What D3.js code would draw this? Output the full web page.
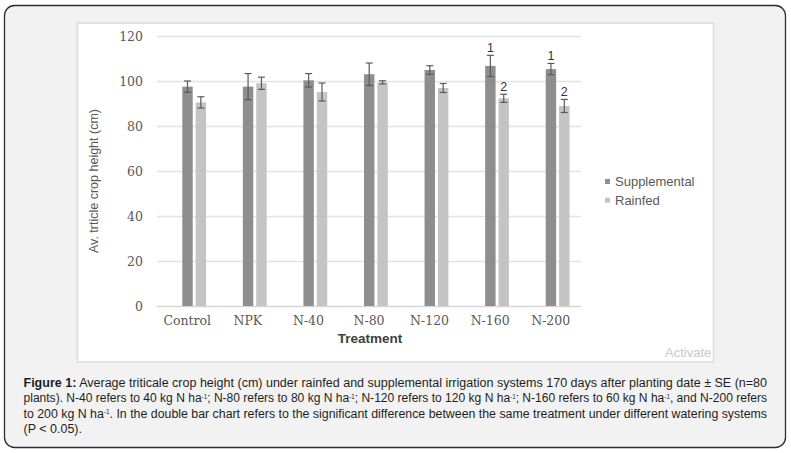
<!DOCTYPE html>
<html>
  <head>
    <title>Triticale crop height</title>
    <style>
      body { margin: 0; background: #ffffff; }
      .grid line { stroke: #e3e3e3; stroke-width: 1.5px; }
      .grid text, .xaxis text { font-family: "DejaVu Serif", serif; font-size: 12.5px; fill: #595959; }
      .cap { font-family: "Liberation Sans", Arial, sans-serif; font-size: 12.5px; fill: #1e1e1e; }
    </style>
    <script src="https://cdn.jsdelivr.net/npm/d3@7"></script>
  </head>

  <body>
    <div id="chart"></div>
    <script type="text/javascript">
      var categories    = ["Control", "NPK", "N-40", "N-80", "N-120", "N-160", "N-200"];
      var series        = ["Supplemental", "Rainfed"];
      var supplemental  = [97.5, 97.5, 100.3, 103.0, 104.9, 106.7, 105.3];
      var supplementalSE = [2.5, 5.8, 3.0, 5.0, 1.9, 4.7, 2.5];
      var rainfed       = [90.5, 99.0, 95.1, 99.4, 96.9, 92.3, 88.9];
      var rainfedSE     = [2.5, 2.7, 4.0, 0.7, 2.0, 1.8, 2.9];
      var supplementalSig = ["", "", "", "", "", "1", "1"];
      var rainfedSig      = ["", "", "", "", "", "2", "2"];
      var yTicks = [0, 20, 40, 60, 80, 100, 120];

      var caption = [
        "[Figure 1:] Average triticale crop height (cm) under rainfed and supplemental irrigation systems 170 days after planting date \u00b1 SE (n=80",
        "plants). N-40 refers to 40 kg N ha{-1}; N-80 refers to 80 kg N ha{-1}; N-120 refers to 120 kg N ha{-1}; N-160 refers to 60 kg N ha{-1}, and N-200 refers",
        "to 200 kg N ha{-1}. In the double bar chart refers to the significant difference between the same treatment under different watering systems",
        "(P < 0.05)."
      ];

      var width = 791, height = 453;
      var colors = { "Supplemental": "#8e8e8e", "Rainfed": "#c4c4c4" };

      var svg = d3.select("#chart").append("svg")
        .attr("width", width)
        .attr("height", height);

      // page panel
      svg.append("rect")
        .attr("x", 4.5).attr("y", 5.5)
        .attr("width", 781).attr("height", 442)
        .attr("rx", 10).attr("ry", 10)
        .style("fill", "#f2f2f2")
        .style("stroke", "#2e2e2e")
        .style("stroke-width", 1.3);

      // chart image
      svg.append("rect")
        .attr("x", 77.5).attr("y", 23)
        .attr("width", 636).attr("height", 339)
        .style("fill", "#ffffff")
        .style("stroke", "#dcdcdc")
        .style("stroke-width", 1.5);

      var x = d3.scaleBand().domain(categories).range([157, 581]);
      var x1 = d3.scaleBand().domain(series).range([-5, 18.8]).paddingInner(0.22);
      var y = d3.scaleLinear().domain([0, 120]).range([306, 36]);

      var grid = svg.append("g")
        .attr("class", "grid")
        .attr("transform", "translate(157,0)")
        .call(d3.axisLeft(y).tickValues(yTicks).tickSize(-(581 - 157)).tickPadding(14));
      grid.select(".domain").remove();
      grid.selectAll(".tick line").filter(function(d){ return d === 0; }).style("stroke", "#d6d6d6");

      var xaxis = svg.append("g")
        .attr("class", "xaxis")
        .attr("transform", "translate(0,306)")
        .call(d3.axisBottom(x).tickSize(0).tickPadding(10));
      xaxis.select(".domain").remove();

      var rows = categories.map(function(c, i) {
        return [
          { cat: c, s: "Supplemental", v: supplemental[i], se: supplementalSE[i], sig: supplementalSig[i] },
          { cat: c, s: "Rainfed", v: rainfed[i], se: rainfedSE[i], sig: rainfedSig[i] }
        ];
      });
      var flat = [].concat.apply([], rows);
      function cx(d) { return x(d.cat) + x.bandwidth() / 2 + x1(d.s) + x1.bandwidth() / 2; }

      svg.selectAll(".bar")
        .data(flat)
        .enter()
        .append("rect")
        .attr("class", "bar")
        .attr("x", function(d){ return x(d.cat) + x.bandwidth() / 2 + x1(d.s); })
        .attr("y", function(d){ return y(d.v); })
        .attr("width", x1.bandwidth())
        .attr("height", function(d){ return y(0) - y(d.v); })
        .style("fill", function(d){ return colors[d.s]; });

      var err = svg.selectAll(".err")
        .data(flat)
        .enter()
        .append("g")
        .attr("class", "err")
        .style("stroke", "#5a5a5a")
        .style("stroke-width", 1.2);
      err.append("line")
        .attr("x1", cx).attr("x2", cx)
        .attr("y1", function(d){ return y(d.v + d.se); })
        .attr("y2", function(d){ return y(d.v - d.se); });
      err.append("line")
        .attr("x1", function(d){ return cx(d) - 3.5; })
        .attr("x2", function(d){ return cx(d) + 3.5; })
        .attr("y1", function(d){ return y(d.v + d.se); })
        .attr("y2", function(d){ return y(d.v + d.se); });
      err.append("line")
        .attr("x1", function(d){ return cx(d) - 3.5; })
        .attr("x2", function(d){ return cx(d) + 3.5; })
        .attr("y1", function(d){ return y(d.v - d.se); })
        .attr("y2", function(d){ return y(d.v - d.se); });

      svg.selectAll(".sig")
        .data(flat.filter(function(d){ return d.sig !== ""; }))
        .enter()
        .append("text")
        .attr("class", "sig")
        .attr("x", cx)
        .attr("y", function(d){ return y(d.v + d.se) - 3.5; })
        .attr("text-anchor", "middle")
        .style("font-family", "'Liberation Sans', Arial, sans-serif")
        .style("font-size", "12.5px")
        .style("fill", "#333333")
        .text(function(d){ return d.sig; });

      // axis titles
      svg.append("text")
        .attr("transform", "translate(97.5,181) rotate(-90)")
        .attr("text-anchor", "middle")
        .style("font-family", "'Liberation Sans', Arial, sans-serif")
        .style("font-size", "12.5px")
        .style("fill", "#595959")
        .text("Av. trticle crop height (cm)");

      svg.append("text")
        .attr("x", 370).attr("y", 343)
        .attr("text-anchor", "middle")
        .style("font-family", "'Liberation Sans', Arial, sans-serif")
        .style("font-size", "13.5px")
        .style("font-weight", "bold")
        .style("fill", "#404040")
        .text("Treatment");

      // legend
      var legend = svg.selectAll(".legend")
        .data(series)
        .enter()
        .append("g")
        .attr("class", "legend")
        .attr("transform", function(d, i){ return "translate(605," + (181.5 + i * 18.7) + ")"; });
      legend.append("rect")
        .attr("x", 0).attr("y", -2.5)
        .attr("width", 5).attr("height", 5)
        .style("fill", function(d){ return colors[d]; });
      legend.append("text")
        .attr("x", 10).attr("y", 4.4)
        .style("font-family", "'Liberation Sans', Arial, sans-serif")
        .style("font-size", "13px")
        .style("fill", "#595959")
        .text(function(d){ return d; });

      svg.append("text")
        .attr("x", 665).attr("y", 357)
        .style("font-family", "'Liberation Sans', Arial, sans-serif")
        .style("font-size", "13px")
        .style("fill", "#c8c8c8")
        .text("Activate");

      // caption, [..] = bold, {..} = superscript
      caption.forEach(function(line, i) {
        var t = svg.append("text")
          .attr("class", "cap")
          .attr("x", 23.5)
          .attr("y", 387 + i * 15.4);
        if (i < caption.length - 1) {
          t.attr("textLength", 743.5).attr("lengthAdjust", "spacingAndGlyphs");
        }
        var parts = line.split(/(\[[^\]]*\]|\{[^}]*\})/);
        var lift = 0;
        parts.forEach(function(p) {
          if (p === "") return;
          if (p[0] === "[") {
            t.append("tspan").attr("dy", -lift).style("font-weight", "bold").text(p.slice(1, -1));
            lift = 0;
          } else if (p[0] === "{") {
            t.append("tspan").attr("dy", -3.5 - lift).style("font-size", "6.5px").text(p.slice(1, -1));
            lift = -3.5;
          } else {
            t.append("tspan").attr("dy", -lift).text(p);
            lift = 0;
          }
        });
      });
    </script>
  </body>
</html>
